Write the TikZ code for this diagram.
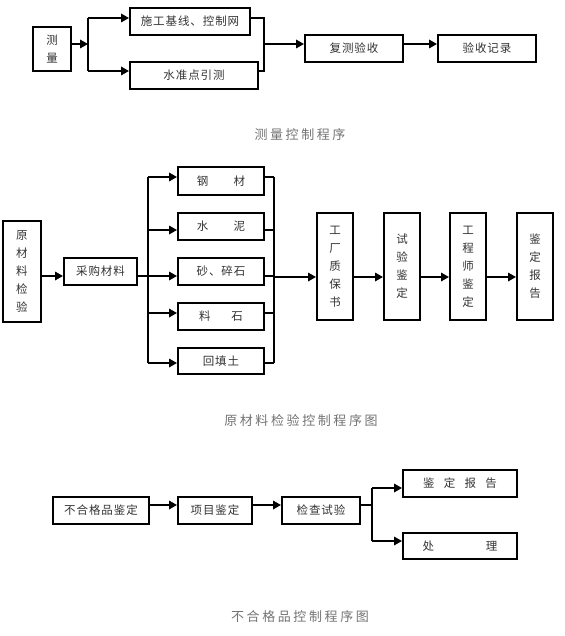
\documentclass[tikz,border=0pt]{standalone}
\usepackage{fontspec}
\newfontfamily\cjk[LetterSpace=8]{Noto Sans CJK SC}
\newfontfamily\cjkbt[LetterSpace=20]{Noto Sans CJK SC}
\usetikzlibrary{arrows.meta}

\tikzset{every picture/.style={line width=1.7pt}}
\tikzset{
	kuang/.style={draw, line width=2pt, inner sep=0pt, minimum height=27pt, align=center, text=black!80, font=\cjk\fontsize{11.5}{18}\selectfont},
	jian/.style={-{Triangle[length=8pt,width=8.5pt]}},
	biaoti/.style={inner sep=0pt, text=black!55, font=\cjkbt\fontsize{13}{15}\selectfont}
}

\begin{document}
\begin{tikzpicture}[x=1pt,y=1pt,yscale=-1]
			\useasboundingbox (0,0) rectangle (564,636);
			\node[kuang, minimum width=38pt, minimum height=44pt] (cl) at (52,49) {测\\量};
			\node[kuang, minimum width=120pt] (sg) at (190,21.5) {施工基线、控制网};
			\node[kuang, minimum width=128pt] (sz) at (194,75.5) {水准点引测};
			\node[kuang, minimum width=98pt] (fc) at (354,48.5) {复测验收};
			\node[kuang, minimum width=98pt] (ys) at (487,48.5) {验收记录};
			\coordinate (a1) at (88,44);
			\coordinate (a1t) at (88,18);
			\coordinate (a1b) at (88,71);
			\coordinate (a2) at (264,44);
			\coordinate (a2t) at (264,18);
			\coordinate (a2b) at (264,71);
			\draw[jian] (cl.east |- a1) -- (a1);
			\draw (a1t) -- (a1b);
			\draw[jian] (a1t) -- (a1t -| sg.west);
			\draw[jian] (a1b) -- (a1b -| sz.west);
			\draw (sg.east |- a2t) -- (a2t) -- (a2b) -- (sz.east |- a2b);
			\draw[jian] (a2) -- (a2 -| fc.west);
			\draw[jian] (fc.east |- a2) -- (a2 -| ys.west);
			\node[biaoti] (t1) at (300,135) {测量控制程序};

			\node[kuang, minimum width=38pt, minimum height=101pt] (yc) at (22,271.5) {原\\材\\料\\检\\验};
			\node[kuang, minimum width=73pt] (cg) at (100.5,271.5) {采购材料};
			\node[kuang, minimum width=86pt, minimum height=28pt] (gc) at (221,181) {钢\hspace{2.2em}材};
			\node[kuang, minimum width=86pt] (sn) at (221,226.5) {水\hspace{2.2em}泥};
			\node[kuang, minimum width=86pt] (ss) at (221,271.5) {砂、碎石};
			\node[kuang, minimum width=86pt] (ls) at (221,316.5) {料\hspace{1.8em}石};
			\node[kuang, minimum width=86pt, minimum height=26pt] (ht) at (221,361) {回填土};
			\node[kuang, minimum width=36pt, minimum height=107pt] (gb) at (335,266.5) {工\\厂\\质\\保\\书};
			\node[kuang, minimum width=36pt, minimum height=107pt] (sy) at (402,266.5) {试\\验\\鉴\\定};
			\node[kuang, minimum width=36pt, minimum height=107pt] (gs) at (468,266.5) {工\\程\\师\\鉴\\定};
			\node[kuang, minimum width=36pt, minimum height=107pt] (jb) at (535,266.5) {鉴\\定\\报\\告};
			\coordinate (b1) at (148,276);
			\coordinate (b1t) at (148,177);
			\coordinate (b1b) at (148,363);
			\coordinate (b2) at (274,277);
			\coordinate (b2t) at (274,177);
			\coordinate (b2b) at (274,363);
			\draw[jian] (yc.east |- b1) -- (b1 -| cg.west);
			\draw (cg.east |- b1) -- (b1);
			\draw (b1t) -- (b1b);
			\draw[jian] (b1t) -- (b1t -| gc.west);
			\draw[jian] (148,230) -- (sn.west |- 148,230);
			\draw[jian] (b1) -- (b1 -| ss.west);
			\draw[jian] (148,313) -- (ls.west |- 148,313);
			\draw[jian] (b1b) -- (b1b -| ht.west);
			\draw (b2t) -- (b2b);
			\draw (gc.east |- b2t) -- (b2t);
			\draw (sn.east |- 274,230) -- (274,230);
			\draw (ss.east |- b1) -- (b1 -| b2);
			\draw (ls.east |- 274,313) -- (274,313);
			\draw (ht.east |- b2b) -- (b2b);
			\draw[jian] (b2) -- (b2 -| gb.west);
			\draw[jian] (gb.east |- b2) -- (b2 -| sy.west);
			\draw[jian] (sy.east |- b2) -- (b2 -| gs.west);
			\draw[jian] (gs.east |- b2) -- (b2 -| jb.west);
			\node[biaoti] (t2) at (301,421) {原材料检验控制程序图};

			\node[kuang, minimum width=96pt] (bh) at (101,510.5) {不合格品鉴定};
			\node[kuang, minimum width=74pt] (xm) at (215,510.5) {项目鉴定};
			\node[kuang, minimum width=78pt] (jc) at (321,510.5) {检查试验};
			\node[kuang, minimum width=114pt] (jd) at (460,483.5) {鉴\hspace{0.8em}定\hspace{0.8em}报\hspace{0.8em}告};
			\node[kuang, minimum width=114pt, minimum height=26pt] (cz) at (460,546) {处\hspace{4.5em}理};
			\coordinate (c1) at (372,505);
			\coordinate (c1t) at (372,488);
			\coordinate (c1b) at (372,541);
			\draw[jian] (bh.east |- c1) -- (c1 -| xm.west);
			\draw[jian] (xm.east |- c1) -- (c1 -| jc.west);
			\draw (jc.east |- c1) -- (c1);
			\draw (c1t) -- (c1b);
			\draw[jian] (c1t) -- (c1t -| jd.west);
			\draw[jian] (c1b) -- (c1b -| cz.west);
			\node[biaoti] (t3) at (300,617) {不合格品控制程序图};
		\end{tikzpicture}
\end{document}
